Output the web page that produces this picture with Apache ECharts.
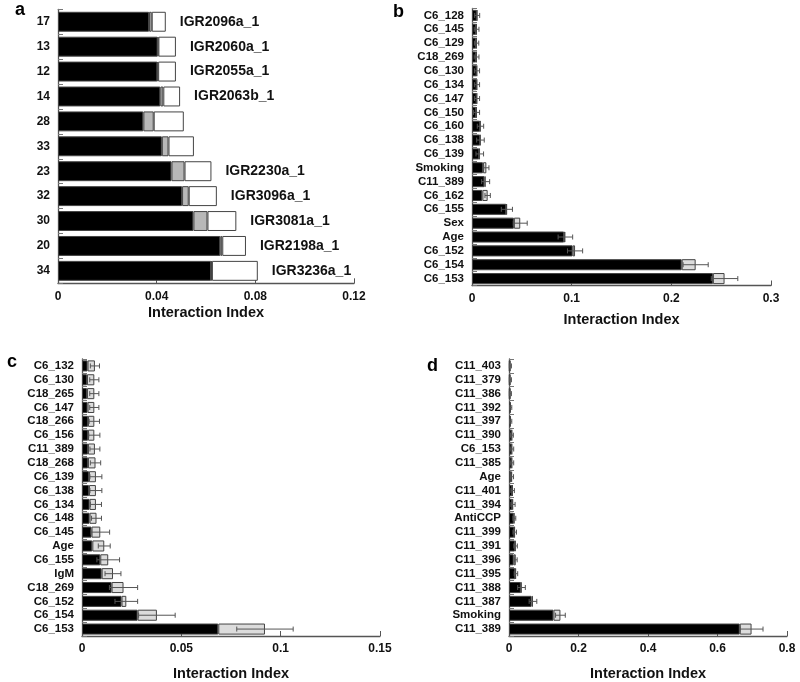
<!DOCTYPE html>
<html><head><meta charset="utf-8">
<script src="https://cdn.jsdelivr.net/npm/echarts@6/dist/echarts.min.js"></script>
<style>html,body{margin:0;padding:0;background:#fff}#c{width:800px;height:682px}</style>
</head><body><div id="c"></div>
<script>
// Panel a
const aCats  = ['17','13','12','14','28','33','23','32','30','20','34'];
const aNames = ['IGR2096a_1','IGR2060a_1','IGR2055a_1','IGR2063b_1','','','IGR2230a_1','IGR3096a_1','IGR3081a_1','IGR2198a_1','IGR3236a_1'];
const aBlack = [0.0369,0.0404,0.0403,0.0415,0.0346,0.0421,0.0460,0.0503,0.0549,0.0658,0.0621];
const aGrey  = [0.0011,0.0003,0.0003,0.0012,0.0042,0.0027,0.0053,0.0027,0.0057,0.0008,0.0003];
const aWhite = [0.0057,0.0071,0.0072,0.0068,0.0122,0.0103,0.0109,0.0114,0.0117,0.0096,0.0186];
const aTicks = [0, 0.04, 0.08, 0.12];
// Panel b
const bCats  = ['C6_128','C6_145','C6_129','C18_269','C6_130','C6_134','C6_147','C6_150','C6_160','C6_138','C6_139','Smoking','C11_389','C6_162','C6_155','Sex','Age','C6_152','C6_154','C6_153'];
const bBlack = [0.0048,0.0042,0.0042,0.0042,0.0046,0.0046,0.0046,0.0042,0.0080,0.0080,0.0073,0.0110,0.0125,0.0104,0.0344,0.0420,0.0924,0.1010,0.2104,0.2417];
const bGrey  = [0.0004,0.0004,0.0004,0.0004,0.0004,0.0004,0.0004,0.0004,0.0005,0.0005,0.0005,0.0034,0.0012,0.0053,0.0006,0.0064,0.0013,0.0024,0.0140,0.0117];
const bErr   = [0.0025,0.0024,0.0022,0.0024,0.0026,0.0026,0.0026,0.0030,0.0032,0.0038,0.0038,0.0026,0.0040,0.0027,0.0056,0.0070,0.0073,0.0076,0.0126,0.0133];
const bTicks = [0, 0.1, 0.2, 0.3];
// Panel c
const cCats  = ['C6_132','C6_130','C18_265','C6_147','C18_266','C6_156','C11_389','C18_268','C6_139','C6_138','C6_134','C6_148','C6_145','Age','C6_155','IgM','C18_269','C6_152','C6_154','C6_153'];
const cBlack = [0.0028,0.0025,0.0025,0.0028,0.0030,0.0030,0.0030,0.0030,0.0035,0.0035,0.0038,0.0038,0.0048,0.0052,0.0092,0.0099,0.0149,0.0199,0.0280,0.0686];
const cGrey  = [0.0037,0.0037,0.0037,0.0034,0.0032,0.0032,0.0035,0.0038,0.0035,0.0035,0.0032,0.0035,0.0044,0.0060,0.0040,0.0057,0.0060,0.0024,0.0097,0.0235];
const cErr   = [0.0023,0.0023,0.0023,0.0023,0.0026,0.0028,0.0025,0.0026,0.0030,0.0030,0.0028,0.0025,0.0047,0.0030,0.0057,0.0040,0.0071,0.0057,0.0092,0.0142];
const cTicks = [0, 0.05, 0.1, 0.15];
// Panel d
const dCats  = ['C11_403','C11_379','C11_386','C11_392','C11_397','C11_390','C6_153','C11_385','Age','C11_401','C11_394','AntiCCP','C11_399','C11_391','C11_396','C11_395','C11_388','C11_387','Smoking','C11_389'];
const dBlack = [0.002,0.002,0.002,0.003,0.003,0.0075,0.0075,0.0075,0.006,0.0095,0.0095,0.0135,0.0155,0.017,0.0135,0.018,0.034,0.065,0.128,0.664];
const dGrey  = [0.002,0.002,0.002,0.002,0.002,0.001,0.001,0.001,0.003,0.001,0.002,0.002,0.001,0.002,0.006,0.002,0.002,0.004,0.020,0.034];
const dErr   = [0.003,0.003,0.003,0.003,0.003,0.004,0.005,0.005,0.004,0.005,0.006,0.004,0.005,0.005,0.004,0.005,0.011,0.011,0.014,0.033];
const dTicks = [0, 0.2, 0.4, 0.6, 0.8];

const FONT = 'Liberation Sans, Arial, sans-serif';
const AX = '#555';

const grids = [
  {left:58, top:9.3, width:296, height:274},
  {left:472, top:8.5, width:299, height:277},
  {left:82, top:359, width:298, height:277},
  {left:509, top:359, width:278, height:277}
];
const tickSets = [aTicks,bTicks,cTicks,dTicks];
const nameGaps = [22, 27, 30, 30];
const xAxes = tickSets.map((t,i)=>({
  type:'value', gridIndex:i, min:t[0], max:t[t.length-1], interval:t[1]-t[0],
  name:'Interaction Index', nameLocation:'middle', nameGap:nameGaps[i],
  nameTextStyle:{fontFamily:FONT, fontWeight:'bold', fontSize:14.5, color:'#111'},
  axisLine:{show:true, lineStyle:{color:AX, width:1.3}},
  axisTick:{show:true, inside:true, length:5, lineStyle:{color:AX}},
  axisLabel:{fontFamily:FONT, fontWeight:'bold', fontSize:12, color:'#111', margin:7},
  splitLine:{show:false}
}));
const catSets = [aCats,bCats,cCats,dCats];
const yAxes = catSets.map((c,i)=>({
  type:'category', gridIndex:i, data:c, inverse:true,
  axisLine:{show:true, lineStyle:{color:AX, width:1.3}},
  axisTick:{show:true, inside:true, length:5, lineStyle:{color:'#777'}},
  axisLabel:{interval:0, fontFamily:FONT, fontWeight:'bold', fontSize:i===0?12:11.5, color:'#111', margin:8}
}));

function barSeries(idx, data, color, stack, extra){
  return Object.assign({
    type:'bar', xAxisIndex:idx, yAxisIndex:idx, stack:stack, data:data,
    barCategoryGap:'20%',
    itemStyle:{color:color, borderColor:'#444', borderWidth:1},
    emphasis:{disabled:true}, animation:false
  }, extra||{});
}
function errRender(params, api){
  const total = api.value(0), idx = api.value(1), e = api.value(2);
  const p1 = api.coord([total - e, idx]);
  const p2 = api.coord([total + e, idx]);
  const h = 2.5;
  const st = {stroke:'#555', lineWidth:1};
  return {type:'group', children:[
    {type:'line', shape:{x1:p1[0], y1:p1[1], x2:p2[0], y2:p2[1]}, style:st},
    {type:'line', shape:{x1:p1[0], y1:p1[1]-h, x2:p1[0], y2:p1[1]+h}, style:st},
    {type:'line', shape:{x1:p2[0], y1:p2[1]-h, x2:p2[0], y2:p2[1]+h}, style:st}
  ]};
}
function errSeries(idx, black, grey, err){
  return {type:'custom', xAxisIndex:idx, yAxisIndex:idx, renderItem:errRender, z:5,
    encode:{x:0, y:1}, animation:false,
    data: black.map((b,i)=>[b + grey[i], i, err[i]])};
}

const series = [
  barSeries(0, aBlack, '#000', 'a'),
  barSeries(0, aGrey, '#b8b8b8', 'a'),
  barSeries(0, aWhite.map((w,i)=>({value:w, label:{show: aNames[i] !== '', formatter: aNames[i]}})), '#fff', 'a', {
    label:{position:'right', distance:14, fontFamily:FONT, fontWeight:'bold', fontSize:14, color:'#111'}
  }),
  barSeries(1, bBlack, '#000', 'b'),
  barSeries(1, bGrey, '#dcdcdc', 'b'),
  errSeries(1, bBlack, bGrey, bErr),
  barSeries(2, cBlack, '#000', 'c'),
  barSeries(2, cGrey, '#dcdcdc', 'c'),
  errSeries(2, cBlack, cGrey, cErr),
  barSeries(3, dBlack, '#000', 'd'),
  barSeries(3, dGrey, '#dcdcdc', 'd'),
  errSeries(3, dBlack, dGrey, dErr)
];

const letters = [['a',15,10],['b',393,12],['c',7,362],['d',427,366]];
const chart = echarts.init(document.getElementById('c'), null, {renderer:'canvas'});
chart.setOption({
  animation:false,
  grid:grids, xAxis:xAxes, yAxis:yAxes, series:series,
  graphic: letters.map(l=>({type:'text', left:l[1], top:l[2]-9,
    style:{text:l[0], font:'bold 18px '+FONT, fill:'#000'}}))
});
</script>
</body></html>
